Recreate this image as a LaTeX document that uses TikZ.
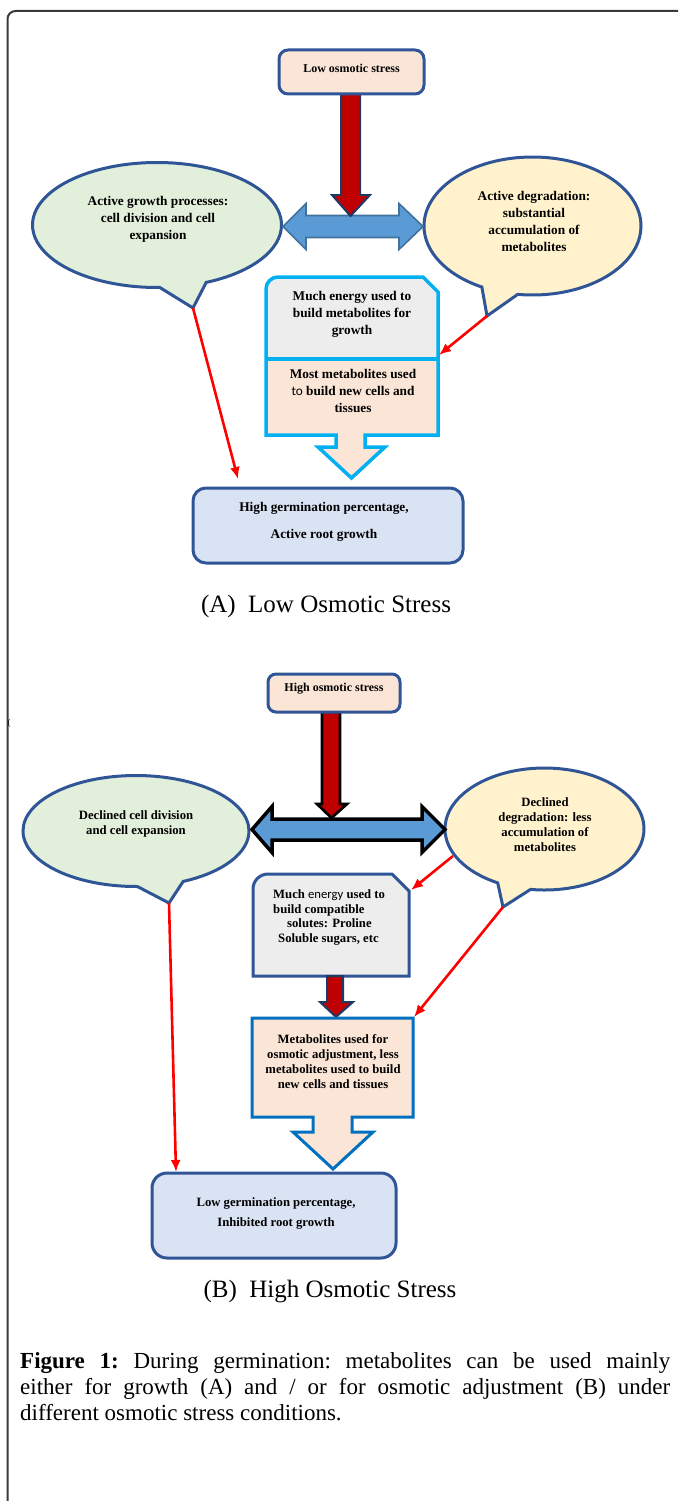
\documentclass[tikz,border=0pt]{standalone}
\usepackage{fontspec}
\setmainfont{Liberation Serif}
\newfontfamily\calfont{Carlito}
\usetikzlibrary{shapes.callouts,arrows.meta,calc}
\definecolor{peach}{HTML}{FBE5D6}
\definecolor{dblue}{HTML}{2F5597}
\definecolor{lgreen}{HTML}{E2EFDA}
\definecolor{lyellow}{HTML}{FFF2CC}
\definecolor{lgray}{HTML}{EDEDED}
\definecolor{lblue}{HTML}{DAE3F3}
\definecolor{cyanb}{HTML}{00B0F0}
\definecolor{blueb}{HTML}{0070C0}
\definecolor{dred}{HTML}{C00000}
\definecolor{navy}{HTML}{1F3864}
\definecolor{arrblue}{HTML}{5B9BD5}
\definecolor{arrblueb}{HTML}{41719C}
\definecolor{framec}{HTML}{3A3A3A}
\begin{document}
\begin{tikzpicture}[x=1pt,y=-1pt,
  bubble/.style={ellipse callout, draw=dblue, line width=3pt, inner sep=0pt, outer sep=0pt},
  txtA/.style={align=center, inner sep=0pt, font=\bfseries\fontsize{13.3}{17}\selectfont},
  txtB/.style={align=center, inner sep=0pt, font=\bfseries\fontsize{12.7}{15}\selectfont},
  stxt/.style={align=center, inner sep=0pt, font=\bfseries\fontsize{12}{14}\selectfont},
  rbox/.style={draw=dblue, line width=3pt, rounded corners=9pt, inner sep=0pt},
  redarr/.style={draw=red, line width=2.6pt, -{Latex[length=12pt,width=10pt]}},
  fatred/.style={fill=dred, line width=2pt, line join=miter},
  fatblue/.style={fill=arrblue, line join=miter},
  captxt/.style={inner sep=0pt, font=\fontsize{25}{30}\selectfont}
]
\useasboundingbox (0,0) rectangle (678,1501);
% frame
\draw[framec, line width=2pt] (7.5,1501) -- (7.5,19) arc[start angle=180, end angle=270, radius=8] -- (678,11);
\node[inner sep=0pt, font=\fontsize{9}{9}\selectfont] (stray) at (9,723) {(};

% ================= Part A =================
\node[bubble, fill=lgreen, minimum width=249pt, minimum height=125pt,
      callout absolute pointer={(193,308)}, callout pointer arc=22] (gA) at (157,225) {};
\node[bubble, fill=lyellow, minimum width=217pt, minimum height=138pt,
      callout absolute pointer={(487,316)}, callout pointer arc=20] (dA) at (532.5,226) {};
\node[txtA] (gAt) at (158,219) {Active growth processes:\\cell division and cell\\expansion};
\node[txtA] (dAt) at (534,221) {Active degradation:\\substantial\\accumulation of\\metabolites};

% blue double arrow
\draw[fatblue, draw=arrblueb, line width=1.6pt] (283,226.5) -- (306,203.5) -- (306,215.5) -- (399,215.5) -- (399,203.5)
  -- (423,226.5) -- (399,249.5) -- (399,237.5) -- (306,237.5) -- (306,249.5) -- cycle;
% red fat arrow
\draw[fatred, draw=navy] (341,92) -- (341,195) -- (332,195) -- (350.5,216) -- (370,195) -- (360,195) -- (360,92) -- cycle;
% low stress box
\node[rbox, fill=peach, minimum width=145pt, minimum height=44pt] (lowA) at (351.5,72) {};
\node[stxt] (lowAt) at (351.5,68) {Low osmotic stress};

% energy / metabolites box with arrow
\path[fill=peach] (266,289) arc[start angle=180, end angle=270, radius=12] -- (423,277) -- (438,292) -- (438,435)
  -- (365,435) -- (365,447) -- (385,447) -- (351.5,478) -- (318,447) -- (336,447) -- (336,435) -- (266,435) -- cycle;
\path[fill=lgray] (266,289) arc[start angle=180, end angle=270, radius=12] -- (423,277) -- (438,292) -- (438,359) -- (266,359) -- cycle;
\draw[cyanb, line width=3.5pt] (266,359) -- (438,359);
\draw[cyanb, line width=3.5pt, line join=miter] (266,289) arc[start angle=180, end angle=270, radius=12] -- (423,277) -- (438,292) -- (438,435)
  -- (365,435) -- (365,447) -- (385,447) -- (351.5,478) -- (318,447) -- (336,447) -- (336,435) -- (266,435) -- cycle;
\node[txtA] (eAt) at (352,314) {Much energy used to\\build metabolites for\\growth};
\node[txtA] (mAt) at (353,391) {Most metabolites used\\{\calfont\mdseries to} build new cells and\\tissues};

% result box A
\node[rbox, fill=lblue, minimum width=270pt, minimum height=75pt, rounded corners=13pt] (resA) at (328,525.5) {};
\node[txtA, font=\bfseries\fontsize{13.3}{27}\selectfont] (resAt) at (324,521.5) {High germination percentage,\\Active root growth};

% connectors A
\coordinate (tA1) at (238,479);
\coordinate (tA2) at (439,355);
\draw[redarr] (gA.pointer) -- (tA1);
\draw[redarr] (dA.pointer) -- (tA2);

\node[captxt, anchor=base] (capA) at (326,612) {(A)\ \ Low Osmotic Stress};

% ================= Part B =================
\node[bubble, fill=lgreen, minimum width=226pt, minimum height=111pt,
      callout absolute pointer={(169,903)}, callout pointer arc=24] (gB) at (136,831) {};
\node[bubble, fill=lyellow, minimum width=199pt, minimum height=122pt,
      callout absolute pointer={(503,907)}, callout pointer arc=20] (dB) at (544.5,829) {};
\node[txtB] (gBt) at (136,823.5) {Declined cell division\\and cell expansion};
\node[txtB] (dBt) at (545,824.5) {Declined\\degradation: less\\accumulation of\\metabolites};

% blue double arrow B
\draw[fatblue, draw=black, line width=3.5pt] (252,829.5) -- (272,806.5) -- (272,819) -- (422,819) -- (422,806.5)
  -- (445,829.5) -- (422,852.5) -- (422,840) -- (272,840) -- (272,852.5) -- cycle;
% red fat arrow B
\draw[fatred, draw=black, line width=2.6pt] (322,712) -- (322,804) -- (317,804) -- (331.5,818) -- (347,804) -- (340,804) -- (340,712) -- cycle;
% high stress box
\node[rbox, fill=peach, minimum width=132pt, minimum height=38pt, rounded corners=8pt] (highB) at (334,693) {};
\node[stxt] (highBt) at (334,689) {High osmotic stress};

% box 1 B
\draw[dblue, fill=lgray, line width=3pt, line join=miter] (253,889) arc[start angle=180, end angle=270, radius=15] -- (392,874) -- (409,891)
  -- (409,976) -- (253,976) -- cycle;
\node[txtB, align=left, anchor=north west, font=\bfseries\fontsize{12.7}{14.7}\selectfont] (eBt) at (273,889.5)
  {Much {\calfont\mdseries energy} used to\\build compatible\\\hspace*{14pt}solutes: Proline\\\hspace*{5pt}Soluble sugars, etc};
% small dark red arrow
\draw[fatred, draw=navy] (327,976) -- (327,1002) -- (320,1002) -- (336,1017) -- (353,1002) -- (343,1002) -- (343,976) -- cycle;
% box 2 B with arrow
\draw[blueb, fill=peach, line width=3pt, line join=miter] (252,1018) -- (413,1018) -- (413,1117) -- (352,1117) -- (352,1132)
  -- (373,1132) -- (333,1169) -- (293,1132) -- (313,1132) -- (313,1117) -- (252,1117) -- cycle;
\node[txtB] (mBt) at (333,1062) {Metabolites used for\\osmotic adjustment, less\\metabolites used to build\\new cells and tissues};

% result box B
\node[rbox, fill=lblue, minimum width=244pt, minimum height=85pt, rounded corners=15pt] (resB) at (274,1215.5) {};
\node[txtB, font=\bfseries\fontsize{12.7}{20}\selectfont] (resBt) at (276,1213) {Low germination percentage,\\Inhibited root growth};

% connectors B
\coordinate (sB2) at (453,856);
\coordinate (tB1) at (176,1172);
\coordinate (tB2) at (411,890);
\coordinate (tB3) at (414,1017);
\draw[redarr] (gB.pointer) -- (tB1);
\draw[redarr] (sB2) -- (tB2);
\draw[redarr] (dB.pointer) -- (tB3);

\node[captxt, anchor=base] (capB) at (330,1297) {(B)\ \ High Osmotic Stress};

% figure caption
\node[inner sep=0pt, anchor=north west, text width=650pt, align=justify, font=\fontsize{23}{26}\selectfont] (figcap) at (20,1352)
  {\frenchspacing\textbf{Figure 1:} During germination: metabolites can be used mainly\linebreak
   either for growth (A) and / or for osmotic adjustment (B) under\linebreak
   different osmotic stress conditions.};
\end{tikzpicture}
\end{document}
